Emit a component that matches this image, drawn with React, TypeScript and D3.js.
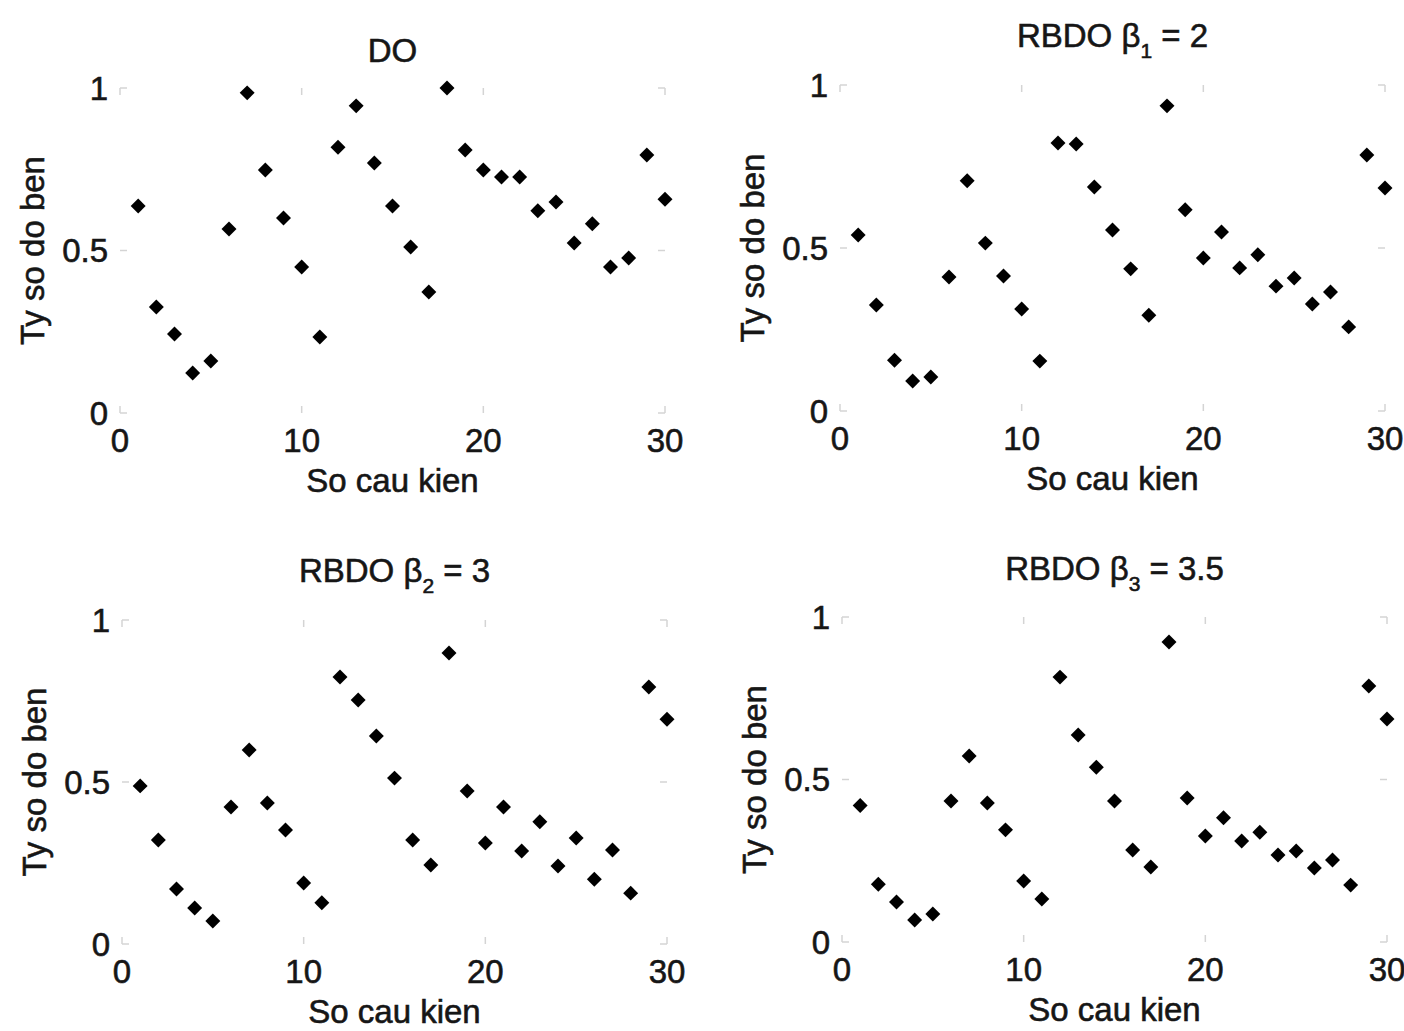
import React from 'react';
import * as d3 from 'd3';

// component index on the x axis
const componentNo = [
  1, 2, 3, 4, 5, 6, 7, 8, 9, 10, 11, 12, 13, 14, 15,
  16, 17, 18, 19, 20, 21, 22, 23, 24, 25, 26, 27, 28, 29, 30,
];

// Ty so do ben (ratio) for each case
const doRatio = [
  0.637, 0.326, 0.243, 0.123, 0.16, 0.566, 0.985, 0.748, 0.6, 0.449,
  0.234, 0.818, 0.945, 0.769, 0.637, 0.511, 0.372, 1.0, 0.809, 0.748,
  0.726, 0.726, 0.622, 0.649, 0.523, 0.582, 0.449, 0.477, 0.794, 0.658,
];
const rbdoBeta1 = [
  0.54, 0.325, 0.156, 0.092, 0.104, 0.411, 0.706, 0.515, 0.414, 0.313,
  0.153, 0.822, 0.819, 0.687, 0.555, 0.436, 0.294, 0.936, 0.617, 0.469,
  0.549, 0.439, 0.479, 0.383, 0.408, 0.328, 0.365, 0.258, 0.785, 0.684,
];
const rbdoBeta2 = [
  0.488, 0.321, 0.17, 0.111, 0.071, 0.423, 0.599, 0.435, 0.352, 0.188,
  0.127, 0.824, 0.753, 0.642, 0.512, 0.321, 0.244, 0.898, 0.472, 0.312,
  0.423, 0.287, 0.377, 0.241, 0.327, 0.2, 0.29, 0.157, 0.793, 0.694,
];
const rbdoBeta3 = [
  0.42, 0.178, 0.123, 0.068, 0.086, 0.434, 0.572, 0.428, 0.345, 0.188,
  0.132, 0.815, 0.637, 0.538, 0.434, 0.283, 0.231, 0.923, 0.443, 0.326,
  0.382, 0.311, 0.338, 0.268, 0.28, 0.228, 0.252, 0.175, 0.788, 0.686,
];

const xTicks = [0, 10, 20, 30];
const yTicks = [0, 0.5, 1];
const yTickLabels = ['0', '0.5', '1'];

const titleMain = ['DO', 'RBDO \u03b2', 'RBDO \u03b2', 'RBDO \u03b2'];
const titleSub = ['', '1', '2', '3'];
const titleTail = ['', ' = 2', ' = 3', ' = 3.5'];
const xLabel = 'So cau kien';
const yLabel = 'Ty so do ben';

const series = [doRatio, rbdoBeta1, rbdoBeta2, rbdoBeta3];

// plot boxes (pixel layout of the 2x2 grid)
const panels = [
  { left: 120, top: 88, right: 665, bottom: 413, titleY: 62 },
  { left: 840, top: 85, right: 1385, bottom: 411, titleY: 47 },
  { left: 122, top: 620, right: 667, bottom: 944, titleY: 582 },
  { left: 842, top: 617, right: 1387, bottom: 942, titleY: 580 },
];

const font = 'Liberation Sans, Arial, sans-serif';
const fs = 33;
const ink = '#161616';
const tickColor = '#d4d4d4';

const marker = d3.symbol(d3.symbolSquare, 112)();

const textStyle = {
  fontFamily: font,
  fontSize: fs,
  fill: ink,
  stroke: ink,
  strokeWidth: 0.6,
};

function Panel({ idx }: { idx: number }) {
  const p = panels[idx];
  const x = d3.scaleLinear().domain([0, 30]).range([p.left, p.right]);
  const y = d3.scaleLinear().domain([0, 1]).range([p.bottom, p.top]);
  const values = series[idx];
  const cx = (p.left + p.right) / 2;
  const cy = (p.top + p.bottom) / 2;

  return (
    <g>
      {/* faint tick marks, the box itself is not visible */}
      {xTicks.map((t) => (
        <g key={'xt' + t} stroke={tickColor} strokeWidth={1.5}>
          <line x1={x(t)} x2={x(t)} y1={p.bottom} y2={p.bottom - 7} />
          <line x1={x(t)} x2={x(t)} y1={p.top} y2={p.top + 7} />
        </g>
      ))}
      {yTicks.map((t) => (
        <g key={'yt' + t} stroke={tickColor} strokeWidth={1.5}>
          <line x1={p.left} x2={p.left + 7} y1={y(t)} y2={y(t)} />
          <line x1={p.right} x2={p.right - 7} y1={y(t)} y2={y(t)} />
        </g>
      ))}

      {xTicks.map((t) => (
        <text key={'xl' + t} x={x(t)} y={p.bottom + 39} textAnchor="middle" style={textStyle}>
          {t}
        </text>
      ))}
      {yTicks.map((t, i) => (
        <text key={'yl' + t} x={p.left - 12} y={y(t)} dy="0.36em" textAnchor="end" style={textStyle}>
          {yTickLabels[i]}
        </text>
      ))}

      <text x={cx} y={p.bottom + 79} textAnchor="middle" style={textStyle}>{xLabel}</text>
      <text transform={`translate(${p.left - 76},${cy}) rotate(-90)`} textAnchor="middle"
        style={textStyle}>{yLabel}</text>

      <text x={cx} y={p.titleY} textAnchor="middle" style={textStyle}>
        {titleMain[idx]}
        {titleSub[idx] && (
          <tspan fontSize={21} dy={11}>{titleSub[idx]}</tspan>
        )}
        {titleTail[idx] && <tspan dy={-11}>{titleTail[idx]}</tspan>}
      </text>

      {componentNo.map((c, i) => (
        <path key={c} d={marker}
          transform={`translate(${x(c)},${y(values[i])}) rotate(45)`}
          fill="#000" />
      ))}
    </g>
  );
}

export default function App() {
  return (
    <svg width={1404} height={1031}
      style={{ position: 'absolute', left: 0, top: 0, background: '#fff' }}>
      {panels.map((_, i) => <Panel key={i} idx={i} />)}
    </svg>
  );
}
